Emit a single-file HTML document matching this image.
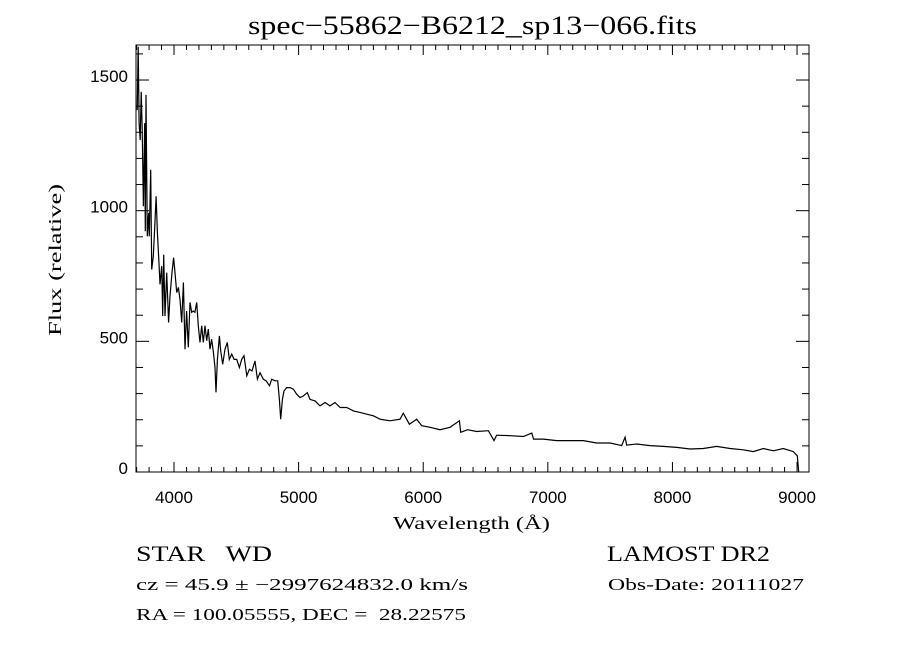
<!DOCTYPE html>
<html><head><meta charset="utf-8"><style>
html,body{margin:0;padding:0;background:#fff;}
svg{display:block;}
</style></head><body>
<svg id="chart" width="900" height="650" viewBox="0 0 900 650" xmlns="http://www.w3.org/2000/svg">
<rect x="0" y="0" width="900" height="650" fill="#fff"/>
<text x="248" y="34" textLength="449" lengthAdjust="spacingAndGlyphs" font-family="Liberation Serif, serif" font-size="26">spec−55862−B6212_sp13−066.fits</text>
<g id="axes"></g>
<path id="spec" fill="none" stroke="#000" stroke-width="1.2"/>
<text x="393" y="529" textLength="157" lengthAdjust="spacingAndGlyphs" font-family="Liberation Serif, serif" font-size="18">Wavelength (Å)</text>
<text transform="translate(61,336) rotate(-90)" textLength="152" lengthAdjust="spacingAndGlyphs" font-family="Liberation Serif, serif" font-size="18">Flux (relative)</text>
<text x="136" y="561" textLength="136" lengthAdjust="spacingAndGlyphs" font-family="Liberation Serif, serif" font-size="22" xml:space="preserve">STAR   WD</text>
<text x="136" y="590" textLength="332" lengthAdjust="spacingAndGlyphs" font-family="Liberation Serif, serif" font-size="17">cz = 45.9 ± −2997624832.0 km/s</text>
<text x="136" y="620" textLength="330" lengthAdjust="spacingAndGlyphs" font-family="Liberation Serif, serif" font-size="17" xml:space="preserve">RA = 100.05555, DEC =  28.22575</text>
<text x="607" y="561" textLength="163" lengthAdjust="spacingAndGlyphs" font-family="Liberation Serif, serif" font-size="22">LAMOST DR2</text>
<text x="608" y="590" textLength="196" lengthAdjust="spacingAndGlyphs" font-family="Liberation Serif, serif" font-size="17">Obs-Date: 20111027</text>
</svg>
<script>
const wavelengths=[3705,3713,3720,3729,3737,3745,3754,3765,3770,3775,3786,3797,3802,3813,3821,3834,3845,3856,3867,3878,3888,3901,3909,3917,3928,3941,3957,3968,3984,3997,4008,4022,4035,4048,4062,4075,4088,4101,4115,4128,4142,4155,4168,4182,4195,4209,4222,4235,4249,4262,4275,4289,4302,4316,4329,4337,4348,4364,4375,4391,4409,4428,4444,4463,4482,4503,4525,4543,4562,4584,4605,4626,4650,4669,4690,4717,4739,4766,4784,4811,4832,4846,4856,4870,4883,4904,4931,4958,4984,5011,5038,5070,5091,5132,5172,5212,5252,5292,5333,5386,5440,5493,5547,5600,5653,5734,5814,5840,5889,5948,5988,6055,6135,6215,6290,6301,6356,6429,6523,6568,6589,6697,6804,6871,6885,6964,7071,7178,7285,7392,7499,7593,7620,7633,7713,7820,7927,8034,8141,8248,8355,8462,8569,8649,8729,8810,8890,8970,9002,9013];
const flux=[1385,1627,1335,1270,1455,1310,1017,1335,921,1443,902,992,902,1157,775,826,935,1055,916,813,718,788,597,832,597,763,572,673,763,820,763,687,706,660,572,725,470,616,477,649,611,616,611,649,560,496,560,496,560,502,547,470,508,458,400,305,431,521,464,412,470,496,431,451,431,431,400,431,445,368,393,387,425,355,380,355,349,330,355,349,349,278,202,278,310,323,323,317,298,285,291,304,278,272,253,266,253,266,247,247,234,228,221,215,202,196,202,225,183,202,177,171,162,171,196,152,162,155,158,120,141,139,136,149,126,126,120,120,120,111,111,101,133,103,107,101,98,94,88,90,98,90,85,78,90,81,90,78,62,0];
const xTickLabels=["4000","5000","6000","7000","8000","9000"];
const yTickLabels=["0","500","1000","1500"];
const X0=136,X1=809,Y0=45,Y1=472;
const xMin=3695,xMax=9096,yMin=0,yMax=1634;
function xs(w){return X0+(w-xMin)/(xMax-xMin)*(X1-X0);}
function ys(f){return Y1-(f-yMin)/(yMax-yMin)*(Y1-Y0);}
const NS="http://www.w3.org/2000/svg";
const axes=document.getElementById('axes');
function line(x1,y1,x2,y2,name){const l=document.createElementNS(NS,'line');
l.setAttribute('x1',x1);l.setAttribute('y1',y1);l.setAttribute('x2',x2);l.setAttribute('y2',y2);
l.setAttribute('stroke','#000');l.setAttribute('stroke-width','1');


axes.appendChild(l);}
const frame=document.createElementNS(NS,'rect');
frame.setAttribute('x',X0);frame.setAttribute('y',Y0);frame.setAttribute('width',X1-X0);frame.setAttribute('height',Y1-Y0);
frame.setAttribute('fill','none');frame.setAttribute('stroke','#000');


axes.appendChild(frame);
for(let w=3700;w<=xMax;w+=100){const x=xs(w);const major=w%1000===0;const L=major?10:5;
line(x,Y1,x,Y1-L,'x-tick');line(x,Y0,x,Y0+L,'x-tick-top');}
for(let f=0;f<=yMax;f+=100){const y=ys(f);const major=f%500===0;const L=major?13:7;
line(X0,y,X0+L,y,'y-tick');line(X1,y,X1-L,y,'y-tick-right');}
xTickLabels.forEach(s=>{const t=document.createElementNS(NS,'text');
t.setAttribute('x',xs(+s));t.setAttribute('y',503);t.setAttribute('text-anchor','middle');
t.setAttribute('font-family','Liberation Sans, sans-serif');t.setAttribute('font-size','17');t.textContent=s;


axes.appendChild(t);});
yTickLabels.forEach(s=>{const t=document.createElementNS(NS,'text');
t.setAttribute('x',128);t.setAttribute('y',ys(+s)+2);t.setAttribute('text-anchor','end');
t.setAttribute('font-family','Liberation Sans, sans-serif');t.setAttribute('font-size','17');t.textContent=s;


axes.appendChild(t);});
let d='';wavelengths.forEach((w,i)=>{d+=(i?'L':'M')+xs(w).toFixed(1)+','+ys(flux[i]).toFixed(1);});
document.getElementById('spec').setAttribute('d',d);
</script>
</body></html>
